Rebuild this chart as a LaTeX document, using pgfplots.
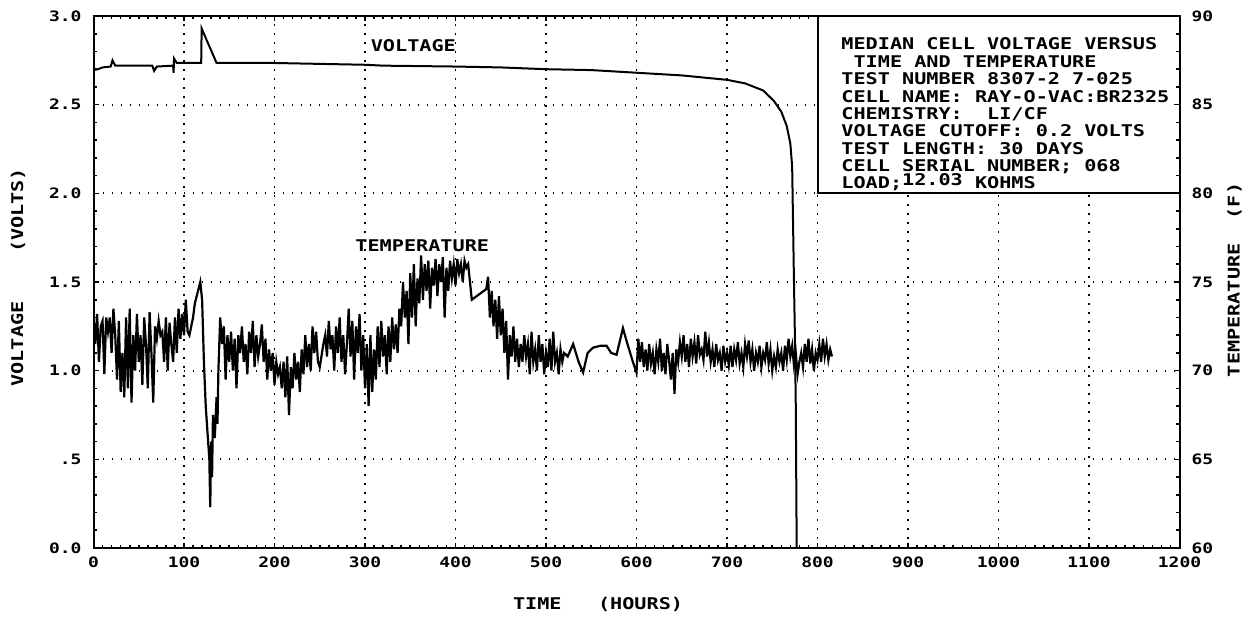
\documentclass[border=0pt]{standalone}
\usepackage{fontspec}
\setmainfont{DejaVu Sans Mono}[FakeStretch=1.25]
\usepackage{pgfplots}
\pgfplotsset{compat=1.18}

% temperature (F) vs time (hours)
\pgfplotstableread{
t T
0 73.0
2 71.5
4 73.2
6 70.5
8 72.5
10 72.8
12 69.8
14 73.0
16 72.2
18 73.0
20 71.0
22 73.5
24 72.0
26 69.5
28 72.8
30 68.8
32 71.0
34 68.5
36 73.0
38 69.0
40 73.5
42 68.2
44 72.0
46 70.0
48 73.2
50 70.5
52 72.0
54 69.2
56 73.0
58 71.5
60 69.0
62 73.3
64 71.0
66 68.2
68 72.5
70 71.8
72 72.8
74 72.0
76 72.2
78 70.5
80 73.0
82 70.0
84 72.7
86 71.5
88 70.5
90 73.0
92 71.0
94 73.5
96 71.8
98 73.2
100 72.0
102 74.0
104 72.2
106 72.0
108 72.5
110 73.0
112 73.8
114 74.2
116 74.6
118 75.0
120 74.0
122 70.5
124 68.0
126 66.5
128 65.0
129 62.3
130 66.0
131 64.0
132 67.5
134 66.2
136 68.5
137 67.0
138 70.0
140 73.0
142 71.5
144 72.5
146 69.5
148 72.0
150 70.5
152 72.2
154 70.0
156 71.8
158 69.0
160 72.0
162 71.0
164 72.5
166 70.5
168 71.5
170 69.8
172 72.2
174 71.0
176 72.8
178 70.2
180 72.0
182 70.8
184 71.5
186 72.6
188 70.5
190 71.8
192 69.5
194 71.2
196 70.0
198 71.0
200 69.2
202 70.5
204 69.8
206 70.2
208 69.0
210 70.5
212 68.5
214 70.8
216 67.5
218 70.2
220 69.0
222 71.0
224 69.5
226 70.5
228 68.8
230 71.2
232 69.8
234 72.0
236 70.2
238 71.5
240 70.0
242 72.5
244 71.0
246 72.2
248 70.5
250 70.2
254 71.5
256 72.0
258 70.8
260 72.8
262 71.2
264 72.0
266 70.0
268 72.5
270 71.0
272 73.0
274 70.5
276 72.0
278 69.8
280 71.5
282 73.5
284 70.8
286 72.8
288 69.5
290 72.5
292 71.0
294 73.2
296 70.0
298 72.0
300 69.0
302 71.5
304 68.0
306 72.0
308 68.8
310 71.2
312 69.5
314 72.5
316 70.2
318 72.8
320 70.8
322 72.0
324 69.8
326 72.5
328 70.5
330 73.0
332 71.2
334 72.6
336 71.0
338 73.5
340 72.5
342 75.0
344 73.0
346 74.5
348 71.5
350 75.5
352 73.0
354 76.0
356 72.5
358 75.2
360 73.8
362 76.5
364 74.0
366 76.0
368 74.5
370 76.2
372 73.5
374 75.8
376 74.8
378 76.3
380 74.2
382 76.0
384 75.0
386 76.4
388 73.0
390 75.8
392 74.5
394 76.2
396 75.2
398 76.0
400 74.8
402 76.3
404 75.5
406 76.0
408 75.0
410 76.2
412 75.8
414 76.0
418 74.0
434 74.6
436 75.3
438 73.0
440 74.5
442 72.5
444 74.0
446 71.8
448 74.2
450 72.0
452 73.5
454 71.0
456 72.8
458 69.5
460 72.0
462 70.8
464 72.5
466 70.5
468 71.8
470 70.2
472 71.5
474 70.5
476 72.0
478 70.8
480 71.5
482 69.8
484 72.2
486 70.5
488 71.2
490 70.0
492 72.0
494 70.5
496 71.5
498 69.8
500 71.0
502 70.2
504 71.8
506 70.0
508 72.2
510 70.5
512 71.0
514 69.8
516 71.2
518 70.5
520 71.0
524 70.8
530 71.5
536 70.5
541 69.9
546 71.0
552 71.3
560 71.4
567 71.4
572 71.0
578 70.9
585 72.4
590 71.5
596 70.5
600 69.9
602 71.8
604 70.5
606 71.6
608 70.2
610 71.2
612 70.0
614 71.5
616 70.4
618 71.0
620 69.8
622 71.2
624 70.5
626 71.8
628 70.0
630 71.0
632 69.8
634 71.5
636 70.6
638 69.5
640 71.0
642 68.7
644 71.2
646 70.5
648 71.6
650 70.8
652 72.0
654 70.5
656 71.5
658 70.2
660 71.8
662 70.8
664 71.6
666 70.4
668 72.0
670 70.9
672 71.2
674 70.6
676 72.2
678 70.8
680 71.6
682 70.5
684 71.2
686 70.2
688 71.5
690 70.6
692 71.0
694 70.0
696 71.4
698 70.5
700 71.0
702 70.3
704 71.4
706 70.2
708 71.2
710 70.6
712 71.6
714 70.4
716 71.0
718 70.2
720 71.5
722 70.8
724 71.7
726 70.5
728 71.2
730 70.0
732 71.0
734 70.5
736 71.4
738 70.2
740 71.0
742 70.6
744 71.6
746 70.4
748 71.2
750 70.0
752 70.8
754 70.2
756 71.2
758 70.5
760 71.0
762 70.0
764 71.4
766 70.6
768 71.8
770 70.8
772 71.4
774 70.3
776 71.0
778 69.8
780 70.5
782 71.0
784 70.2
786 71.5
788 70.5
790 71.8
792 70.4
794 71.2
796 70.0
798 71.0
800 70.6
802 71.5
804 70.5
806 71.8
808 70.8
810 71.5
812 70.6
814 71.2
816 70.8
}\temptable

% median cell voltage (V) vs time (hours)
\pgfplotstableread{
t V
0 2.695
5 2.70
10 2.71
19 2.715
21 2.75
24 2.72
65 2.72
67 2.69
70 2.715
88 2.72
88.5 2.68
89 2.76
92 2.735
119 2.735
119.5 2.93
122 2.90
136 2.735
200 2.735
300 2.725
320 2.72
400 2.715
450 2.71
500 2.70
550 2.695
600 2.68
650 2.665
700 2.64
720 2.62
740 2.58
752 2.52
760 2.46
766 2.38
770 2.28
772 2.15
774 1.50
775 1.20
776 0.80
777 0.0
}\volttable

\tikzset{
  plt/.style={font=\fontsize{7.2}{8}\selectfont\bfseries},
  pltbig/.style={font=\fontsize{8.1}{9}\selectfont\bfseries},
}

\begin{document}
\begin{tikzpicture}
\useasboundingbox (-46.75bp,-35bp) rectangle (577.75bp,274bp);
\begin{axis}[
  name=main,
  scale only axis, width=543bp, height=266bp,
  xmin=0, xmax=1200, ymin=0, ymax=3,
  xtick={0,100,...,1200},
  xticklabels={0,100,200,300,400,500,600,700,800,900,1000,1100,1200},
  ytick={0,0.5,1,1.5,2,2.5,3},
  yticklabels={0.0,.5,1.0,1.5,2.0,2.5,3.0},
  minor x tick num=9, minor y tick num=4,
  ytick pos=left,
  tick align=inside,
  major tick length=2.6bp, minor tick length=1.6bp,
  every tick/.style={black, line width=0.8bp},
  axis line style={line width=1bp},
  grid=major,
  major grid style={black, line width=0.9bp, dash pattern=on 0.9bp off 3.6bp},
  tick label style={plt},
  xticklabel style={yshift=-1bp},
  yticklabel style={xshift=-2.5bp},
  xlabel={TIME\ \ \ (HOURS)},
  ylabel={VOLTAGE\ \ \ \ (VOLTS)},
  every axis x label/.style={at={(axis description cs:0.4646,-0.107)}, anchor=center, pltbig},
  every axis y label/.style={at={(axis description cs:-0.0695,0.509)}, rotate=90, anchor=center, pltbig},
]
\addplot[black, line width=1bp] table[x=t, y=V] {\volttable};
\draw[black, line width=1bp, fill=white] (axis cs:800,2.0) rectangle (axis cs:1200,3.0);
\node[pltbig, anchor=base west, inner sep=0] at (axis cs:306,2.797) {VOLTAGE};
\node[pltbig, anchor=base west, inner sep=0] at (axis cs:289,1.67) {TEMPERATURE};
\begin{scope}[every node/.style={anchor=base west, inner sep=0, pltbig}]
\node at (axis cs:826,2.809) {MEDIAN CELL VOLTAGE VERSUS};
\node at (axis cs:826,2.711) {\ TIME AND TEMPERATURE};
\node at (axis cs:826,2.613) {TEST NUMBER 8307-2 7-025};
\node at (axis cs:826,2.515) {CELL NAME: RAY-O-VAC:BR2325};
\node at (axis cs:826,2.417) {CHEMISTRY:\ \ LI/CF};
\node at (axis cs:826,2.319) {VOLTAGE CUTOFF: 0.2 VOLTS};
\node at (axis cs:826,2.221) {TEST LENGTH: 30 DAYS};
\node at (axis cs:826,2.123) {CELL SERIAL NUMBER; 068};
\node at (axis cs:826,2.025) {LOAD;\raisebox{1.5bp}{12.03} KOHMS};
\end{scope}
\end{axis}
\begin{axis}[
  scale only axis, width=543bp, height=266bp,
  xmin=0, xmax=1200, ymin=60, ymax=90,
  hide x axis,
  axis y line*=right,
  ytick={60,65,...,90},
  yticklabels={60,65,70,75,80,85,90},
  minor y tick num=4,
  tick align=inside,
  major tick length=2.6bp, minor tick length=1.6bp,
  every tick/.style={black, line width=0.8bp},
  axis line style={line width=1bp, -},
  tick label style={plt},
  yticklabel style={xshift=2.5bp},
  ylabel={TEMPERATURE\ \ (F)},
  every axis y label/.style={at={(axis description cs:1.0506,0.504)}, rotate=90, anchor=center, pltbig},
]
\addplot[black, line width=1.1bp] table[x=t, y=T] {\temptable};
\end{axis}
\end{tikzpicture}
\end{document}
